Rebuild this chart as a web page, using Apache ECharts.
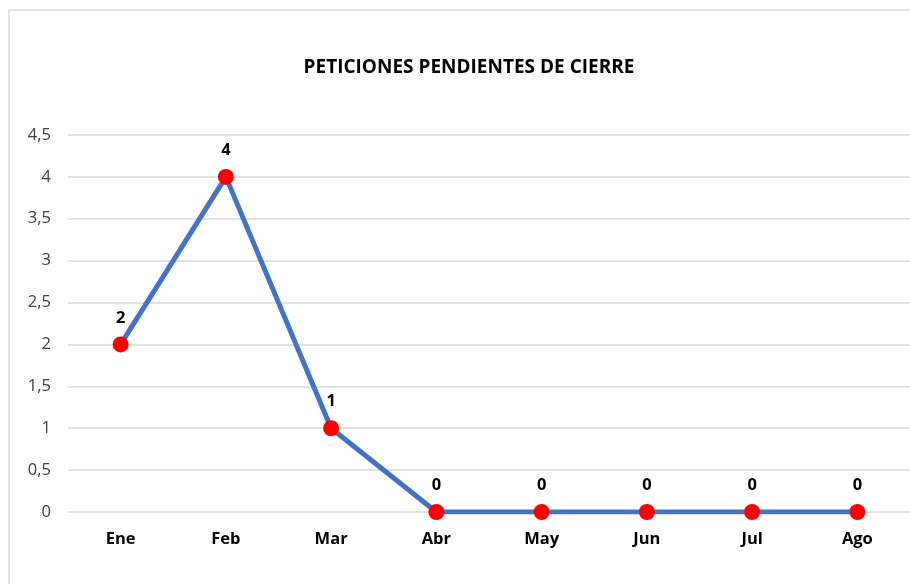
<!DOCTYPE html>
<html><head><meta charset="utf-8">
<script src="https://cdn.jsdelivr.net/npm/echarts@6/dist/echarts.min.js"></script>
<style>html,body{margin:0;padding:0;background:#fff}#c{width:910px;height:584px}</style>
</head><body><div id="c"></div>
<script>
const categories = ['Ene','Feb','Mar','Abr','May','Jun','Jul','Ago'];
const values = [2,4,1,0,0,0,0,0];
const titleText = 'PETICIONES PENDIENTES DE CIERRE';
const FONT = '"Open Sans", "Noto Sans", sans-serif';
const chart = echarts.init(document.getElementById('c'));
chart.setOption({
  backgroundColor:'#fff',
  animation:false,
  title:{text:titleText,left:464,textAlign:'center',top:53,textStyle:{fontFamily:FONT,fontSize:19,fontWeight:'bold',color:'#000'}},
  graphic:[{type:'rect',shape:{x:9,y:10,width:1000,height:700},style:{fill:'none',stroke:'#d9d9d9',lineWidth:1.5},silent:true}],
  grid:{left:68,top:135,width:843,height:377,containLabel:false},
  xAxis:{type:'category',data:categories,boundaryGap:true,
    axisLine:{show:false},axisTick:{show:false},
    axisLabel:{margin:19,fontFamily:FONT,fontSize:16.5,fontWeight:'bold',color:'#000'}},
  yAxis:{type:'value',min:0,max:4.5,interval:0.5,
    axisLine:{show:false},axisTick:{show:false},
    splitLine:{lineStyle:{color:'#d9d9d9',width:1.5}},
    axisLabel:{margin:17,fontFamily:FONT,fontSize:16.5,color:'#404040',formatter:v=>String(v).replace('.',',')}},
  series:[{type:'line',data:values,symbol:'circle',symbolSize:16,
    lineStyle:{color:'#4472C4',width:5},
    itemStyle:{color:'#ff0000'},
    label:{show:true,position:'top',distance:10,fontFamily:FONT,fontSize:16.5,fontWeight:'bold',color:'#000'}}]
});
</script></body></html>
